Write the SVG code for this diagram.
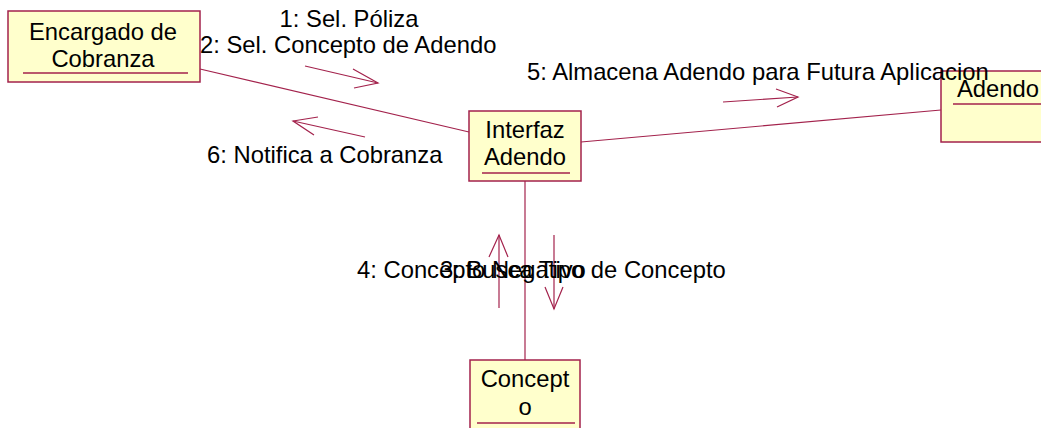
<svg xmlns="http://www.w3.org/2000/svg" width="1041" height="428" viewBox="0 0 1041 428">
<style>
.box{fill:#FFFFCC;stroke:#A3224C;stroke-width:1.5}
.ul{stroke:#A3224C;stroke-width:1.5}
.ln{stroke:#A3224C;stroke-width:1.2;fill:none}
text{font-family:"Liberation Sans",Arial,sans-serif;font-size:23.8px;fill:#000}
.c{text-anchor:middle}
</style>
<rect width="1041" height="428" fill="#fff"/>
<g id="connectors">
<line class="ln" x1="200" y1="69" x2="469" y2="132"/>
<line class="ln" x1="581" y1="142" x2="941" y2="110"/>
<line class="ln" x1="525" y1="181" x2="525" y2="360"/>
<polyline class="ln" points="305,66 378,83"/>
<polyline class="ln" points="353,69 378,83 354,88"/>
<polyline class="ln" points="365,137 293,121"/>
<polyline class="ln" points="318,117 293,121 314,135"/>
<polyline class="ln" points="723,102 798,97"/>
<polyline class="ln" points="776,89 798,97 777,107"/>
<polyline class="ln" points="499,308 499,235"/>
<polyline class="ln" points="489,257 499,235 508,257"/>
<polyline class="ln" points="554,235 554,309"/>
<polyline class="ln" points="545,287 554,309 563,287"/>
</g>
<g id="encargado">
<rect class="box" x="8" y="11" width="192" height="71"/>
<line class="ul" x1="23" y1="73" x2="188" y2="73"/>
<text class="c" x="103" y="40">Encargado de</text>
<text class="c" x="103" y="67">Cobranza</text>
</g>
<g id="interfaz">
<rect class="box" x="469" y="111" width="112" height="70"/>
<line class="ul" x1="482" y1="173" x2="570" y2="173"/>
<text class="c" x="525" y="138">Interfaz</text>
<text class="c" x="525" y="165">Adendo</text>
</g>
<g id="adendo">
<rect class="box" x="941" y="71" width="110" height="71"/>
<line class="ul" x1="953" y1="104" x2="1041" y2="104"/>
<text x="957" y="97">Adendo</text>
</g>
<g id="concepto">
<rect class="box" x="470" y="360" width="110" height="80"/>
<line class="ul" x1="477" y1="423" x2="575" y2="423"/>
<text class="c" x="525" y="387">Concept</text>
<text class="c" x="525" y="415">o</text>
</g>
<g id="labels">
<text class="c" x="349" y="27">1: Sel. Póliza</text>
<text x="200" y="53">2: Sel. Concepto de Adendo</text>
<text x="527" y="80">5: Almacena Adendo para Futura Aplicacion</text>
<text x="207" y="163">6: Notifica a Cobranza</text>
<text x="357" y="278">4: Concepto Negativo</text>
<text x="440" y="278">3: Busca Tipo de Concepto</text>
</g>
</svg>
